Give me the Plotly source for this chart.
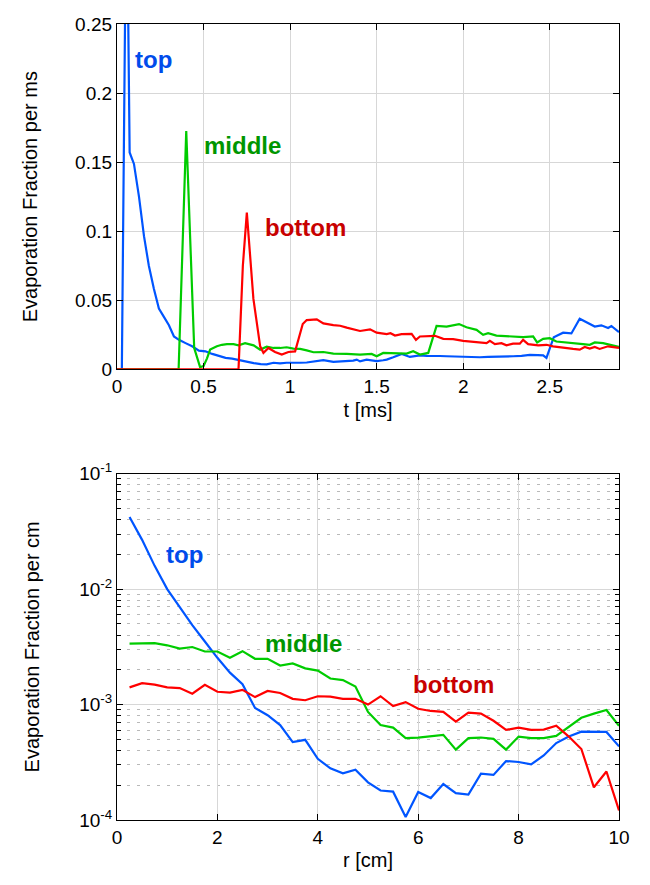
import plotly.graph_objects as go
from plotly.subplots import make_subplots

# ---------------- top panel data (t in ms, fraction per ms) ----------------
t_top = [0, 0.028, 0.055, 0.073, 0.098, 0.127, 0.156, 0.184, 0.213, 0.242, 0.271, 0.30,
         0.329, 0.358, 0.396, 0.434, 0.473, 0.511, 0.55, 0.588, 0.627, 0.665, 0.713, 0.75,
         0.79, 0.83, 0.865, 0.904, 0.942, 0.98, 1.019, 1.058, 1.096, 1.135, 1.173, 1.192,
         1.25, 1.288, 1.327, 1.365, 1.385, 1.404, 1.442, 1.48, 1.5, 1.538, 1.558, 1.596,
         1.645, 1.692, 1.75, 1.79, 1.827, 1.865, 1.904, 1.95, 2.0, 2.05, 2.096, 2.144, 2.192,
         2.24, 2.288, 2.337, 2.385, 2.43, 2.462, 2.481, 2.523, 2.577, 2.625, 2.673, 2.721,
         2.76, 2.798, 2.837, 2.856, 2.895, 2.9]
v_top = [0, 0, 0.37, 0.157, 0.1487, 0.125, 0.0964, 0.075, 0.0583, 0.044, 0.038, 0.032,
         0.0238, 0.0214, 0.019, 0.0167, 0.0136, 0.0131, 0.0112, 0.010, 0.0083, 0.0078, 0.0064, 0.0055,
         0.0045, 0.0038, 0.0036, 0.0048, 0.0043, 0.0048, 0.0046, 0.0048, 0.005, 0.0055, 0.006, 0.0067,
         0.0055, 0.0058, 0.006, 0.0064, 0.0071, 0.0058, 0.0071, 0.0064, 0.006, 0.0066, 0.0071, 0.0088,
         0.0112, 0.009, 0.0102, 0.0098, 0.010, 0.0097, 0.0095, 0.0093, 0.009, 0.0092, 0.0088, 0.009, 0.009,
         0.0093, 0.0095, 0.0098, 0.0105, 0.0103, 0.0102, 0.0083, 0.0233, 0.0266, 0.026, 0.0366, 0.0338,
         0.031, 0.0319, 0.030, 0.0314, 0.0271, 0.027]

t_mid = [0, 0.356, 0.40, 0.446, 0.48, 0.50, 0.52, 0.538, 0.577, 0.606, 0.635, 0.673, 0.702,
         0.74, 0.789, 0.827, 0.865, 0.904, 0.942, 0.98, 1.019, 1.058, 1.096, 1.135, 1.192, 1.25,
         1.327, 1.404, 1.471, 1.5, 1.538, 1.615, 1.673, 1.711, 1.75, 1.798, 1.846, 1.904, 1.976,
         2.019, 2.077, 2.115, 2.144, 2.192, 2.269, 2.346, 2.404, 2.427, 2.462, 2.5, 2.538, 2.615,
         2.692, 2.731, 2.76, 2.808, 2.85, 2.9]
v_mid = [0, 0, 0.1725, 0.0155, 0.0017, 0.0024, 0.008, 0.0143, 0.0167, 0.0178, 0.0183, 0.0183, 0.0174,
         0.019, 0.0174, 0.0143, 0.0164, 0.0155, 0.0155, 0.016, 0.015, 0.0148, 0.0138, 0.0124, 0.0126, 0.0114,
         0.0112, 0.0107, 0.0112, 0.0095, 0.0119, 0.0119, 0.0114, 0.0131, 0.0107, 0.0119, 0.0314, 0.031, 0.0328,
         0.0305, 0.0286, 0.025, 0.0262, 0.0245, 0.0238, 0.0233, 0.0238, 0.0195, 0.0221, 0.0226, 0.0202, 0.0195,
         0.0183, 0.0178, 0.0195, 0.019, 0.0178, 0.0162]

t_bot = [0, 0.702, 0.727, 0.75, 0.788, 0.827, 0.846, 0.875, 0.913, 0.952, 0.99, 1.029, 1.073,
         1.096, 1.154, 1.192, 1.25, 1.289, 1.327, 1.404, 1.462, 1.5, 1.558, 1.58, 1.606, 1.644,
         1.702, 1.727, 1.75, 1.808, 1.837, 1.885, 1.942, 2.0, 2.077, 2.135, 2.154, 2.183, 2.221,
         2.25, 2.288, 2.327, 2.346, 2.375, 2.433, 2.481, 2.519, 2.577, 2.635, 2.673, 2.702, 2.731,
         2.76, 2.788, 2.837, 2.9]
v_bot = [0, 0, 0.075, 0.1135, 0.051, 0.0167, 0.012, 0.0155, 0.0126, 0.0107, 0.0126, 0.013, 0.0328,
         0.0357, 0.0362, 0.0333, 0.0321, 0.0316, 0.0302, 0.0278, 0.029, 0.0266, 0.0255, 0.0262, 0.0245, 0.0255,
         0.0257, 0.0214, 0.0238, 0.0238, 0.0243, 0.0221, 0.0219, 0.0207, 0.020, 0.019, 0.0207, 0.0183, 0.019,
         0.0174, 0.0186, 0.0186, 0.0214, 0.0183, 0.0174, 0.0178, 0.0167, 0.0155, 0.0148, 0.0143, 0.0162, 0.015,
         0.0162, 0.0148, 0.0167, 0.0155]

# ---------------- bottom panel data (r in cm, fraction per cm) ----------------
r_vals = [0.25, 0.5, 0.75, 1.0, 1.25, 1.5, 1.75, 2.0, 2.25, 2.5, 2.75, 3.0, 3.25, 3.5, 3.75,
          4.0, 4.25, 4.5, 4.75, 5.0, 5.25, 5.5, 5.75, 6.0, 6.25, 6.5, 6.75, 7.0, 7.25, 7.5,
          7.75, 8.0, 8.25, 8.5, 8.75, 9.0, 9.25, 9.5, 9.75, 10.0]
top_r = [0.0422, 0.0267, 0.0159, 0.0100, 0.00698, 0.00488, 0.00352, 0.00254, 0.00189, 0.00150,
         0.000933, 0.000809, 0.000665, 0.000473, 0.000495, 0.000339, 0.000280, 0.000254, 0.000273, 0.000212,
         0.000180, 0.000176, 0.000106, 0.000175, 0.000155, 0.000205, 0.000171, 0.000166, 0.000252, 0.000246,
         0.000324, 0.000318, 0.000303, 0.000362, 0.000464, 0.000528, 0.000582, 0.000579, 0.000579, 0.000434]
mid_r = [0.00337, 0.00341, 0.00341, 0.00326, 0.00305, 0.00315, 0.00288, 0.00288, 0.00254, 0.0029,
         0.00249, 0.00249, 0.00218, 0.00227, 0.00206, 0.00197, 0.00168, 0.00163, 0.00143, 0.000863,
         0.000665, 0.000631, 0.000512, 0.000518, 0.000532, 0.000546, 0.000407, 0.000512, 0.000518, 0.000505,
         0.000407, 0.000528, 0.000512, 0.000512, 0.000535, 0.000644, 0.000768, 0.000835, 0.000898, 0.000656]
bot_r = [0.00141, 0.00153, 0.00149, 0.00141, 0.00139, 0.00124, 0.00148, 0.00129, 0.00127, 0.00134,
         0.00116, 0.00131, 0.00126, 0.00112, 0.00109, 0.00118, 0.00117, 0.00112, 0.00112, 0.00100,
         0.00118, 0.00097, 0.00105, 0.00092, 0.00088, 0.000863, 0.00071, 0.00085, 0.000835, 0.000724,
         0.000603, 0.000631, 0.000603, 0.000607, 0.000656, 0.000528, 0.000412, 0.000192, 0.000263, 0.000121]

top_ticks = [0, 0.05, 0.1, 0.15, 0.2, 0.25]
top_ticklabels = ["0", "0.05", "0.1", "0.15", "0.2", "0.25"]
t_ticks = [0, 0.5, 1, 1.5, 2, 2.5]
t_ticklabels = ["0", "0.5", "1", "1.5", "2", "2.5"]
r_ticks = [0, 2, 4, 6, 8, 10]
log_ticks = [1e-4, 1e-3, 1e-2, 1e-1]
log_ticklabels = ["10<sup>-4</sup>", "10<sup>-3</sup>", "10<sup>-2</sup>", "10<sup>-1</sup>"]
log_minor = [m * d for d in (1e-4, 1e-3, 1e-2) for m in (2, 3, 4, 5, 6, 7, 8, 9)]

BLUE = "rgb(0,85,255)"
GREEN = "rgb(0,204,0)"
RED = "rgb(255,0,0)"
BLUE_T = "rgb(0,75,235)"
GREEN_T = "rgb(0,150,0)"
RED_T = "rgb(200,0,0)"
FONT = "Liberation Sans, Arial, Helvetica, sans-serif"

fig = make_subplots(rows=2, cols=1, vertical_spacing=0.0)

lw = 2.2
fig.add_trace(go.Scatter(x=t_top, y=v_top, mode="lines", line=dict(color=BLUE, width=lw)), row=1, col=1)
fig.add_trace(go.Scatter(x=t_mid, y=v_mid, mode="lines", line=dict(color=GREEN, width=lw)), row=1, col=1)
fig.add_trace(go.Scatter(x=t_bot, y=v_bot, mode="lines", line=dict(color=RED, width=lw)), row=1, col=1)

fig.add_trace(go.Scatter(x=r_vals, y=top_r, mode="lines", line=dict(color=BLUE, width=lw)), row=2, col=1)
fig.add_trace(go.Scatter(x=r_vals, y=mid_r, mode="lines", line=dict(color=GREEN, width=lw)), row=2, col=1)
fig.add_trace(go.Scatter(x=r_vals, y=bot_r, mode="lines", line=dict(color=RED, width=lw)), row=2, col=1)

axis_common = dict(
    showline=True, linecolor="black", linewidth=1.2, mirror="ticks",
    ticks="inside", ticklen=6, tickcolor="black", tickwidth=1.2,
    showgrid=True, gridcolor="rgb(215,215,215)", gridwidth=1,
    zeroline=False, tickfont=dict(size=19, color="black", family=FONT),
    title_font=dict(size=20, color="black", family=FONT),
)

fig.update_layout(
    width=650, height=885,
    margin=dict(l=117, r=31, t=11, b=65),
    paper_bgcolor="white", plot_bgcolor="white",
    showlegend=False,
    font=dict(family=FONT, color="black"),
)

fig.update_xaxes(axis_common, row=1, col=1)
fig.update_xaxes(axis_common, row=2, col=1)
fig.update_yaxes(axis_common, row=1, col=1)
fig.update_yaxes(axis_common, row=2, col=1)

fig.update_layout(
    xaxis=dict(domain=[0, 1], range=[0, 2.9], tickvals=t_ticks, ticktext=t_ticklabels,
               title=dict(text="t [ms]", standoff=6)),
    yaxis=dict(domain=[0.5661, 1.0], range=[0, 0.25], tickvals=top_ticks, ticktext=top_ticklabels,
               title=dict(text="Evaporation Fraction per ms", standoff=32)),
    xaxis2=dict(domain=[0, 1], range=[0, 10], tickvals=r_ticks,
                title=dict(text="r [cm]", standoff=6)),
    yaxis2=dict(domain=[0.0, 0.4351], type="log", range=[-4, -1], tickvals=log_ticks,
                ticktext=log_ticklabels,
                title=dict(text="Evaporation Fraction per cm", standoff=34),
                minor=dict(tickmode="array", tickvals=log_minor,
                           ticks="inside", ticklen=4, tickcolor="black", tickwidth=1,
                           showgrid=True, gridcolor="rgb(185,185,185)", gridwidth=1,
                           griddash="3px,7px")),
)

ann_font = lambda c: dict(size=24, color=c, family=FONT)
fig.add_annotation(x=0.21, y=0.224, xref="x", yref="y", text="<b>top</b>", showarrow=False, font=ann_font(BLUE_T))
fig.add_annotation(x=0.723, y=0.1617, xref="x", yref="y", text="<b>middle</b>", showarrow=False, font=ann_font(GREEN_T))
fig.add_annotation(x=1.087, y=0.1025, xref="x", yref="y", text="<b>bottom</b>", showarrow=False, font=ann_font(RED_T))

fig.add_annotation(x=1.34, y=-1.701, xref="x2", yref="y2", text="<b>top</b>", showarrow=False, font=ann_font(BLUE_T))
fig.add_annotation(x=3.72, y=-2.468, xref="x2", yref="y2", text="<b>middle</b>", showarrow=False, font=ann_font(GREEN_T))
fig.add_annotation(x=6.71, y=-2.823, xref="x2", yref="y2", text="<b>bottom</b>", showarrow=False, font=ann_font(RED_T))

fig.write_html("out.html")
